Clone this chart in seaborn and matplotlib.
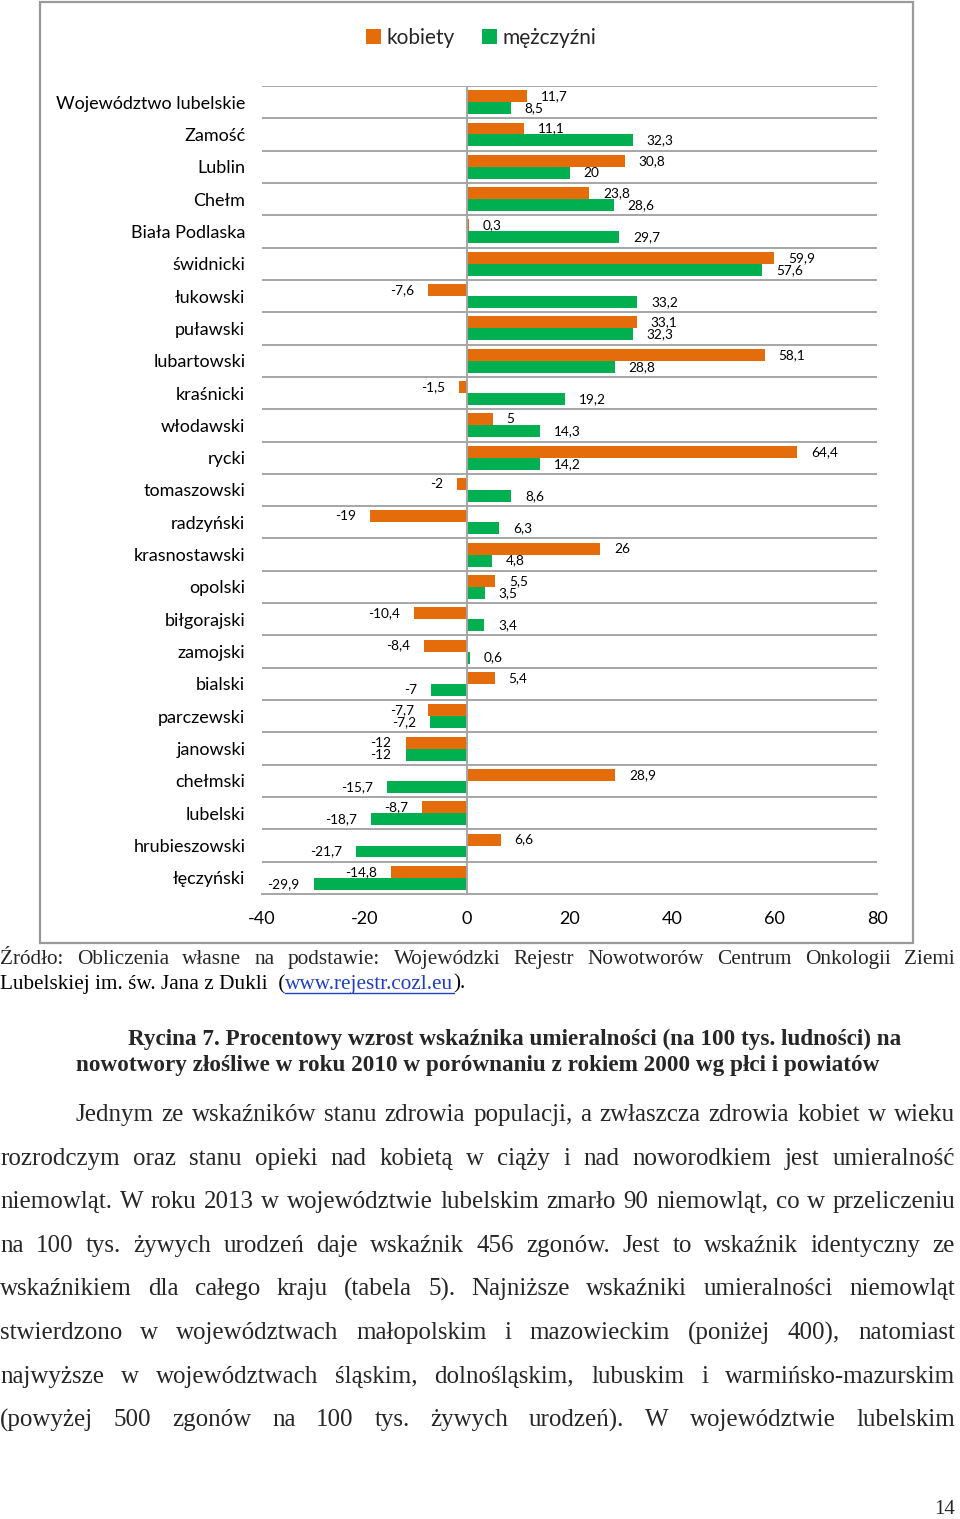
import numpy as np
import pandas as pd
import seaborn as sns
import matplotlib.pyplot as plt
from matplotlib.patches import Rectangle
from matplotlib.lines import Line2D

plt.switch_backend('agg')

# data (percent change 2010 vs 2000)
powiaty = ["Województwo lubelskie", "Zamość", "Lublin", "Chełm", "Biała Podlaska",
           "świdnicki", "łukowski", "puławski", "lubartowski", "kraśnicki",
           "włodawski", "rycki", "tomaszowski", "radzyński", "krasnostawski",
           "opolski", "biłgorajski", "zamojski", "bialski", "parczewski",
           "janowski", "chełmski", "lubelski", "hrubieszowski", "łęczyński"]
kobiety = [11.7, 11.1, 30.8, 23.8, 0.3, 59.9, -7.6, 33.1, 58.1, -1.5,
           5, 64.4, -2, -19, 26, 5.5, -10.4, -8.4, 5.4, -7.7,
           -12, 28.9, -8.7, 6.6, -14.8]
mezczyzni = [8.5, 32.3, 20, 28.6, 29.7, 57.6, 33.2, 32.3, 28.8, 19.2,
             14.3, 14.2, 8.6, 6.3, 4.8, 3.5, 3.4, 0.6, -7, -7.2,
             -12, -15.7, -18.7, -21.7, -29.9]
plec = ["kobiety", "mężczyźni"]
x_ticks = [-40, -20, 0, 20, 40, 60, 80]

ORANGE = "#E46C0A"
GREEN = "#00B050"
GRID = "#A6A6A6"
SANS = ["Lato", "DejaVu Sans"]
SERIF = ["Liberation Serif", "DejaVu Serif"]

W, H = 960, 1519

sns.set_style("white")
plt.rcParams['font.family'] = SANS


def fmt(v):
    if float(v).is_integer():
        return str(int(v))
    return f"{v:.1f}".replace(".", ",")


def fy(px):
    return 1 - px / H


def put_justified(fig, renderer, line, y, x0, x1, size, **kw):
    words = line.split()
    texts = [fig.text(0, fy(y), w, fontsize=size, family=SERIF, va="center", **kw) for w in words]
    widths = [t.get_window_extent(renderer).width for t in texts]
    gap = (x1 - x0 - sum(widths)) / max(len(words) - 1, 1)
    x = x0
    for t, w in zip(texts, widths):
        t.set_x(x / W)
        x += w + gap


def put_runs(fig, renderer, runs, y, x0, size, **kw):
    x = x0
    for txt, color, underline in runs:
        t = fig.text(x / W, fy(y), txt, fontsize=size, family=SERIF, va="center", color=color, **kw)
        w = t.get_window_extent(renderer).width
        if underline:
            fig.add_artist(Line2D([x / W, (x + w) / W], [fy(y + 9), fy(y + 9)],
                                  color=color, lw=1, transform=fig.transFigure))
        x += w


df = pd.DataFrame({
    "powiat": powiaty * 2,
    "wartosc": kobiety + mezczyzni,
    "plec": [plec[0]] * len(powiaty) + [plec[1]] * len(powiaty),
})

fig = plt.figure(figsize=(W / 100, H / 100), dpi=100)
ax = fig.add_axes([262 / W, fy(894), (877 - 262) / W, (894 - 86) / H])

sns.barplot(data=df, y="powiat", x="wartosc", hue="plec", orient="h",
            palette=[ORANGE, GREEN], width=0.74, saturation=1, errorbar=None,
            linewidth=0, ax=ax)

ax.set_xlim(-40, 80)
ax.set_ylim(len(powiaty) - 0.5, -0.5)
ax.set_xticks(x_ticks)
ax.set_xticklabels([str(t) for t in x_ticks])
ax.set_xlabel("")
ax.set_ylabel("")

# separators between the groups + zero line
ax.hlines(np.arange(-0.5, len(powiaty) - 1), -40, 80, color=GRID, lw=1.4, zorder=0)
ax.axvline(0, color=GRID, lw=1.4, zorder=3)

for s in ["top", "right", "left"]:
    ax.spines[s].set_visible(False)
ax.spines["bottom"].set_color(GRID)
ax.spines["bottom"].set_linewidth(1.4)
ax.tick_params(axis="y", length=0, pad=12, labelsize=13, labelcolor="black")
ax.tick_params(axis="x", direction="in", length=3, width=1.4, color=GRID,
               pad=12, labelsize=13, labelcolor="black")

for cont, vals in zip(ax.containers, [kobiety, mezczyzni]):
    ax.bar_label(cont, labels=[fmt(v) for v in vals], padding=10, fontsize=9.8,
                 color="black")

sns.move_legend(ax, loc="center", bbox_to_anchor=(481 / W, fy(38)),
                bbox_transform=fig.transFigure, ncol=2, title=None, frameon=False,
                fontsize=15, handlelength=0.75, handleheight=0.75,
                handletextpad=0.25, columnspacing=1.3)

# outer chart frame
fig.add_artist(Rectangle((40 / W, fy(943)), (913 - 40) / W, (943 - 2) / H,
                         fill=False, edgecolor="#9A9A9A", lw=1.6,
                         transform=fig.transFigure))

renderer = fig.canvas.get_renderer()

put_justified(fig, renderer,
              "Źródło: Obliczenia własne na podstawie: Wojewódzki Rejestr Nowotworów Centrum Onkologii Ziemi",
              959, 0, 955, 15.3)
put_runs(fig, renderer,
         [("Lubelskiej im. św. Jana z Dukli  (", "black", False),
          ("www.rejestr.cozl.eu", "#1F3FBF", True),
          (").", "black", False)], 984, 0, 15.3)

fig.text(128 / W, fy(1039), "Rycina 7. Procentowy wzrost wskaźnika umieralności (na 100 tys. ludności) na",
         fontsize=16.7, family=SERIF, weight="bold", va="center")
fig.text(76 / W, fy(1066), "nowotwory złośliwe w roku 2010 w porównaniu z rokiem 2000 wg płci i powiatów",
         fontsize=16.7, family=SERIF, weight="bold", va="center")

para = [
    ("Jednym ze wskaźników stanu zdrowia populacji, a zwłaszcza zdrowia kobiet w wieku", 75),
    ("rozrodczym oraz stanu opieki nad kobietą w ciąży i nad noworodkiem jest umieralność", 0),
    ("niemowląt. W roku 2013 w województwie lubelskim zmarło 90 niemowląt, co w przeliczeniu", 0),
    ("na 100 tys. żywych urodzeń daje wskaźnik 456 zgonów. Jest to wskaźnik identyczny ze", 0),
    ("wskaźnikiem dla całego kraju (tabela 5). Najniższe wskaźniki umieralności niemowląt", 0),
    ("stwierdzono w województwach małopolskim i mazowieckim (poniżej 400), natomiast", 0),
    ("najwyższe w województwach śląskim, dolnośląskim, lubuskim i warmińsko-mazurskim", 0),
    ("(powyżej 500 zgonów na 100 tys. żywych urodzeń).  W województwie lubelskim", 0),
]
line_y = [1115, 1159, 1202, 1246, 1289, 1333, 1377, 1420]
for (line, x0), y in zip(para, line_y):
    put_justified(fig, renderer, line, y, x0, 955, 18)

fig.text(955 / W, fy(1509), "14", fontsize=15, family=SERIF, ha="right", va="center")

fig.savefig("out.png", dpi=100, facecolor="white")
